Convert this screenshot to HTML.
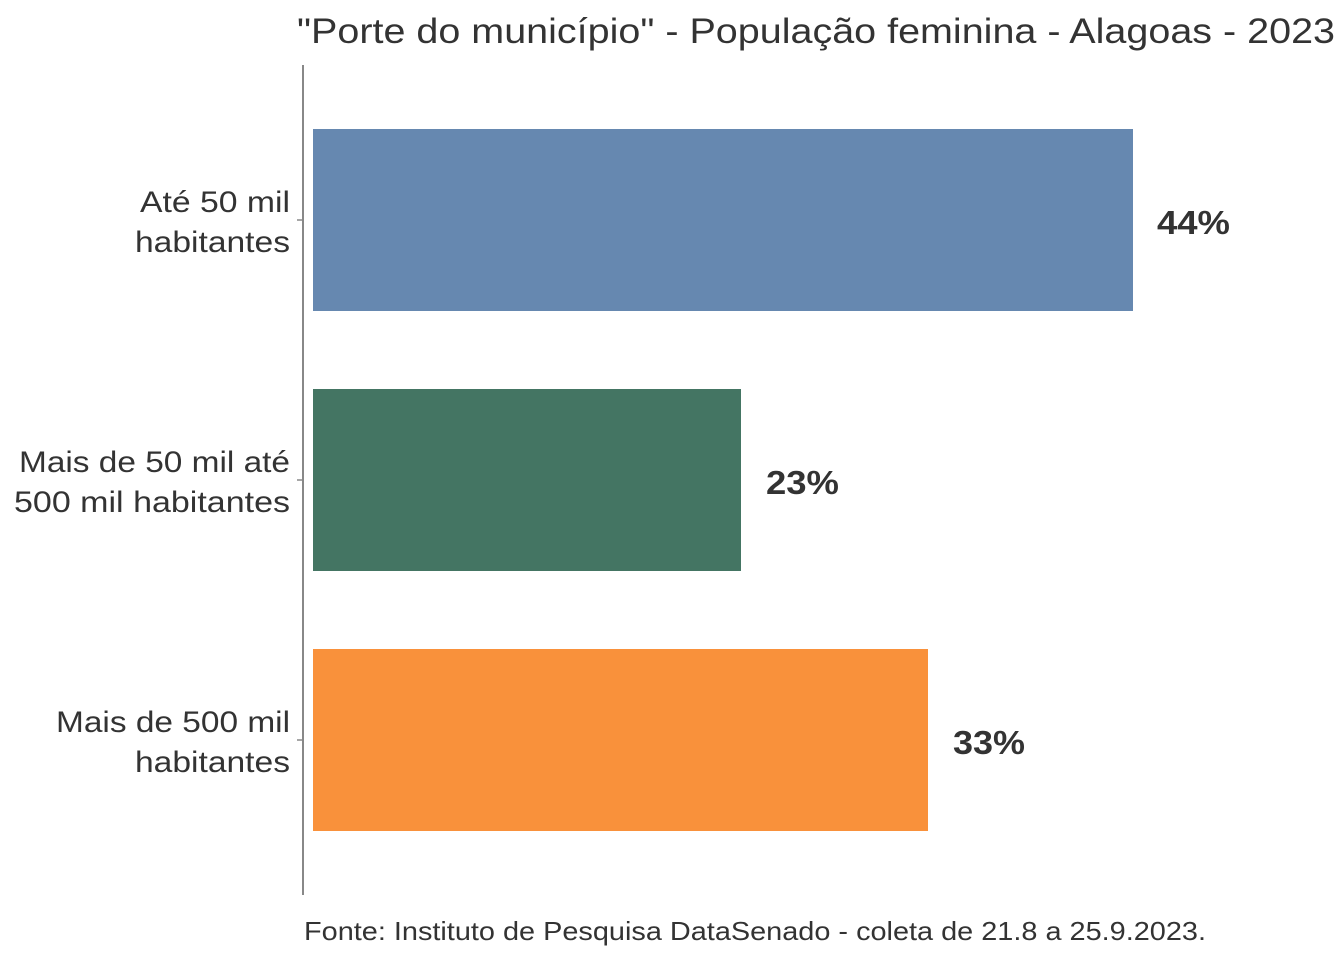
<!DOCTYPE html>
<html><head><meta charset="utf-8"><style>
html,body{margin:0;padding:0;background:#fff;}
svg{display:block;font-family:"Liberation Sans",sans-serif;}
</style></head><body>
<svg width="1344" height="960" viewBox="0 0 1344 960" xmlns="http://www.w3.org/2000/svg">
<text x="1335" y="43" text-anchor="end" font-size="35" fill="#333" textLength="1038" lengthAdjust="spacingAndGlyphs">"Porte do município" - População feminina - Alagoas - 2023</text>
<line x1="303" y1="65" x2="303" y2="895" stroke="#888" stroke-width="2"/>
<g stroke="#888" stroke-width="1.5">
<line x1="297" y1="220" x2="303" y2="220"/>
<line x1="297" y1="480" x2="303" y2="480"/>
<line x1="297" y1="740" x2="303" y2="740"/>
</g>
<rect x="313" y="129" width="820" height="182" fill="#6688b0"/>
<rect x="313" y="389" width="428" height="182" fill="#447563"/>
<rect x="313" y="649" width="615" height="182" fill="#f9913b"/>
<g font-size="33" font-weight="bold" fill="#333" lengthAdjust="spacingAndGlyphs">
<text x="1157" y="234" textLength="73" lengthAdjust="spacingAndGlyphs">44%</text>
<text x="766" y="494" textLength="73" lengthAdjust="spacingAndGlyphs">23%</text>
<text x="953" y="754" textLength="72" lengthAdjust="spacingAndGlyphs">33%</text>
</g>
<g font-size="30" fill="#333" text-anchor="end">
<text x="290" y="212" textLength="150" lengthAdjust="spacingAndGlyphs">Até 50 mil</text>
<text x="290" y="252" textLength="155" lengthAdjust="spacingAndGlyphs">habitantes</text>
<text x="290" y="472" textLength="271" lengthAdjust="spacingAndGlyphs">Mais de 50 mil até</text>
<text x="290" y="512" textLength="276" lengthAdjust="spacingAndGlyphs">500 mil habitantes</text>
<text x="290" y="732" textLength="234" lengthAdjust="spacingAndGlyphs">Mais de 500 mil</text>
<text x="290" y="772" textLength="155" lengthAdjust="spacingAndGlyphs">habitantes</text>
</g>
<text x="304" y="940" font-size="26" fill="#333" textLength="902" lengthAdjust="spacingAndGlyphs">Fonte: Instituto de Pesquisa DataSenado - coleta de 21.8 a 25.9.2023.</text>
</svg>
</body></html>
